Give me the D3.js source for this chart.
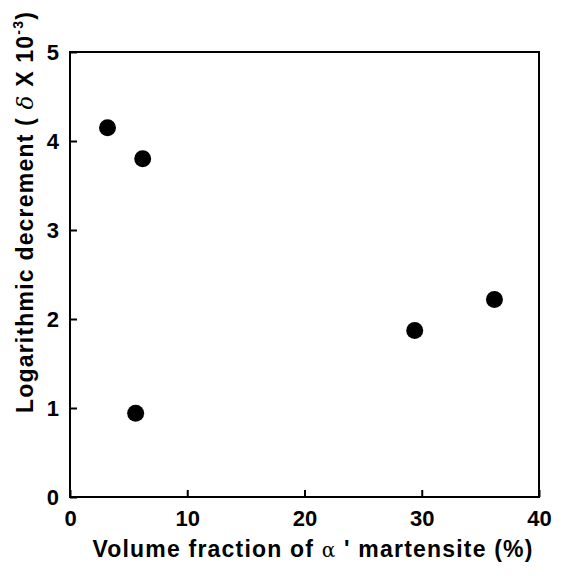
<!DOCTYPE html>
<html>
<head>
<meta charset="utf-8">
<script src="https://cdn.jsdelivr.net/npm/d3@7"></script>
<style>
  html, body { margin: 0; padding: 0; background: #fff; }
  svg { display: block; }
  text { font-family: "Liberation Sans", Arial, Helvetica, sans-serif; font-weight: bold; fill: #000; }
</style>
</head>
<body>
<svg id="chart" width="574" height="576"></svg>
<script>
// Martensite volume fraction (%) vs. logarithmic decrement (×10^-3)
const martensiteFraction = [3.2, 6.2, 5.6, 29.4, 36.2];
const logDecrement = [4.15, 3.80, 0.94, 1.87, 2.22];
const xTicks = [0, 10, 20, 30, 40];
const yTicks = [0, 1, 2, 3, 4, 5];

const svg = d3.select("#chart");
const plotLeft = 70, plotRight = 539, plotTop = 52, plotBottom = 497;

const x = d3.scaleLinear().domain([0, 40]).range([plotLeft, plotRight]);
const y = d3.scaleLinear().domain([0, 5]).range([plotBottom, plotTop]);

// Frame
svg.append("rect")
  .attr("x", plotLeft).attr("y", plotTop)
  .attr("width", plotRight - plotLeft).attr("height", plotBottom - plotTop)
  .attr("fill", "none").attr("stroke", "#000").attr("stroke-width", 2);

// Bottom axis: inward ticks
const xAxis = svg.append("g")
  .attr("transform", `translate(0,${plotBottom})`)
  .call(d3.axisBottom(x).tickValues(xTicks).tickFormat(d3.format("d"))
    .tickSizeInner(-7).tickSizeOuter(0).tickPadding(13));
xAxis.select(".domain").remove();
xAxis.selectAll("line").attr("stroke-width", 2);
xAxis.selectAll("text").style("font-size", "22px");

// Left axis: inward ticks
const yAxis = svg.append("g")
  .attr("transform", `translate(${plotLeft},0)`)
  .call(d3.axisLeft(y).tickValues(yTicks).tickFormat(d3.format("d"))
    .tickSizeInner(-7).tickSizeOuter(0).tickPadding(11));
yAxis.select(".domain").remove();
yAxis.selectAll("line").attr("stroke-width", 2);
yAxis.selectAll("text").style("font-size", "22px");

// Data points
svg.append("g").selectAll("circle")
  .data(martensiteFraction.map((v, i) => [v, logDecrement[i]]))
  .join("circle")
  .attr("cx", d => x(d[0]))
  .attr("cy", d => y(d[1]))
  .attr("r", 8.5)
  .attr("fill", "#000");

// X axis title
const xt = svg.append("text")
  .attr("x", 313).attr("y", 557)
  .attr("text-anchor", "middle")
  .style("font-size", "23px")
  .style("letter-spacing", "1.2px");
xt.append("tspan").text("Volume fraction of ");
xt.append("tspan").style("font-weight", "normal").style("font-family", "DejaVu Serif, serif").style("font-size", "20px").text("α");
xt.append("tspan").text(" ' martensite (%)");

// Y axis title
const yt = svg.append("text")
  .attr("transform", "translate(33,212) rotate(-90)")
  .attr("text-anchor", "middle")
  .style("font-size", "23px")
  .style("letter-spacing", "1.2px");
yt.append("tspan").text("Logarithmic decrement ( ");
yt.append("tspan").style("font-weight", "normal").style("font-style", "italic").style("font-family", "DejaVu Serif, serif").text("δ");
yt.append("tspan").text(" X 10");
yt.append("tspan").style("font-size", "14px").attr("dy", -10).text("-3");
yt.append("tspan").attr("dy", 10).text(")");
</script>
</body>
</html>
